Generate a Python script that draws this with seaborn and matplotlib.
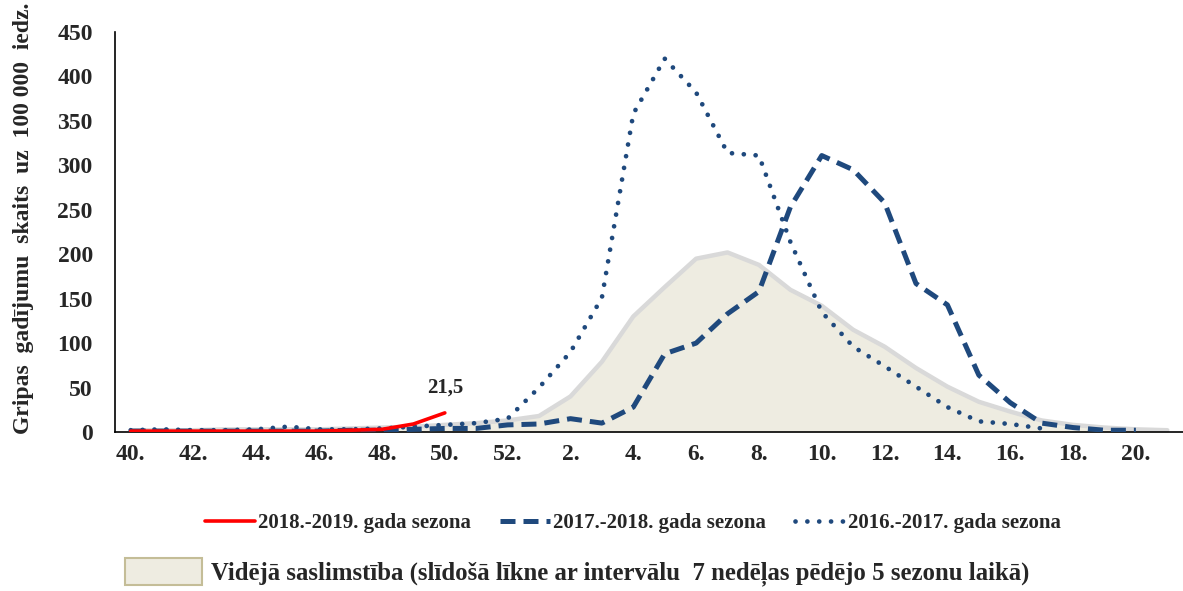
import pandas as pd
import matplotlib.pyplot as plt
import seaborn as sns
from matplotlib.lines import Line2D
from matplotlib.patches import Patch

# weeks of the season (category axis)
weeks = [40, 41, 42, 43, 44, 45, 46, 47, 48, 49, 50, 51, 52,
         1, 2, 3, 4, 5, 6, 7, 8, 9, 10, 11, 12, 13, 14, 15, 16, 17, 18, 19, 20, 21]

season_1819 = [1, 1, 1, 1, 1, 1, 1, 2, 3, 9, 21.5]
season_1718 = [1, 1, 1, 1, 1, 1, 1, 2, 2, 3, 4, 4, 8,
               9, 15, 10, 28, 88, 100, 133, 158, 253, 311, 295, 258, 167, 143, 64, 33, 10, 5, 2, 2]
season_1617 = [2, 3, 2, 2, 3, 6, 3, 3, 4, 6, 8, 10, 15,
               50, 90, 151, 358, 420, 382, 314, 311, 214, 135, 96, 74, 51, 28, 12, 9, 4]
average = [2, 2, 2, 3, 3, 3, 3, 4, 5, 6, 8, 10, 13,
           18, 40, 79, 130, 163, 195, 202, 188, 160, 142, 115, 96, 72, 51, 34, 23, 13, 8, 5, 3, 2]

label_1819 = '2018.-2019. gada sezona'
label_1718 = '2017.-2018. gada sezona'
label_1617 = '2016.-2017. gada sezona'
label_avg = 'Vidējā saslimstība (slīdošā līkne ar intervālu  7 nedēļas pēdējo 5 sezonu laikā)'

blue = '#1F497D'
red = '#FF0000'
dash = (0, (3.0, 1.6))
dots = (0, (0.01, 2.5))

sns.set_style('white')
plt.rcParams['font.family'] = ['Liberation Serif', 'DejaVu Serif']
plt.rcParams['font.weight'] = 'bold'

fig = plt.figure(figsize=(11.83, 5.91), dpi=100)
ax = fig.add_axes([115 / 1183, (591 - 432) / 591, 1068 / 1183, 400 / 591])

pos = list(range(len(weeks)))
avg_df = pd.DataFrame({'x': pos, 'y': average})
ax.fill_between(avg_df['x'], 0, avg_df['y'], color='#EEECE1', lw=0, zorder=1)
sns.lineplot(data=avg_df, x='x', y='y', ax=ax, color='#D9D9D9', lw=3.2, zorder=2)

df1617 = pd.DataFrame({'x': pos[:len(season_1617)], 'y': season_1617})
sns.lineplot(data=df1617, x='x', y='y', ax=ax, color=blue, lw=3.4,
             linestyle=dots, dash_capstyle='round', zorder=3)

df1718 = pd.DataFrame({'x': pos[:len(season_1718)], 'y': season_1718})
sns.lineplot(data=df1718, x='x', y='y', ax=ax, color=blue, lw=3.6,
             linestyle=dash, zorder=4)

df1819 = pd.DataFrame({'x': pos[:len(season_1819)], 'y': season_1819})
sns.lineplot(data=df1819, x='x', y='y', ax=ax, color=red, lw=2.6, zorder=5)

ax.annotate('21,5', (pos[len(season_1819) - 1], season_1819[-1]),
            xytext=(0, 11), textcoords='offset points', ha='center', va='bottom',
            fontsize=15, fontweight='bold')

ax.set_xlim(-0.5, len(weeks) - 0.5)
ax.set_ylim(0, 450)
ax.set_xticks(pos[::2])
ax.set_xticklabels([f'{w}.' for w in weeks[::2]])
ax.set_yticks(range(0, 451, 50))
ax.tick_params(axis='both', length=0, labelsize=17)
ax.tick_params(axis='x', pad=9)
ax.tick_params(axis='y', pad=16)
for lab in ax.get_xticklabels() + ax.get_yticklabels():
    lab.set_fontweight('bold')
ax.set_xlabel('')
ax.set_ylabel('Gripas  gadījumu  skaits  uz  100 000  iedz.', fontsize=17,
              fontweight='bold')
ax.yaxis.set_label_coords(-0.076, 0.535)
sns.despine(ax=ax)
for s in ['left', 'bottom']:
    ax.spines[s].set_color('black')
    ax.spines[s].set_linewidth(1.2)

handles = [
    Line2D([], [], color=red, lw=2.6),
    Line2D([], [], color=blue, lw=3.6, linestyle=dash),
    Line2D([], [], color=blue, lw=3.4, linestyle=dots, dash_capstyle='round'),
]
fig.legend(handles, [label_1819, label_1718, label_1617], loc='center',
           bbox_to_anchor=(0.535, 1 - 523 / 591), ncol=3, frameon=False,
           prop={'family': 'Liberation Serif', 'weight': 'bold', 'size': 15},
           handlelength=2.4, handletextpad=0.15, columnspacing=1.4)
fig.legend([Patch(facecolor='#EEECE1', edgecolor='#C4BD97', lw=1.5)], [label_avg],
           loc='center', bbox_to_anchor=(0.488, 1 - 572 / 591), frameon=False,
           prop={'family': 'Liberation Serif', 'weight': 'bold', 'size': 17.8},
           handlelength=3.1, handleheight=1.35, handletextpad=0.35)

fig.savefig('out.png', dpi=100)
